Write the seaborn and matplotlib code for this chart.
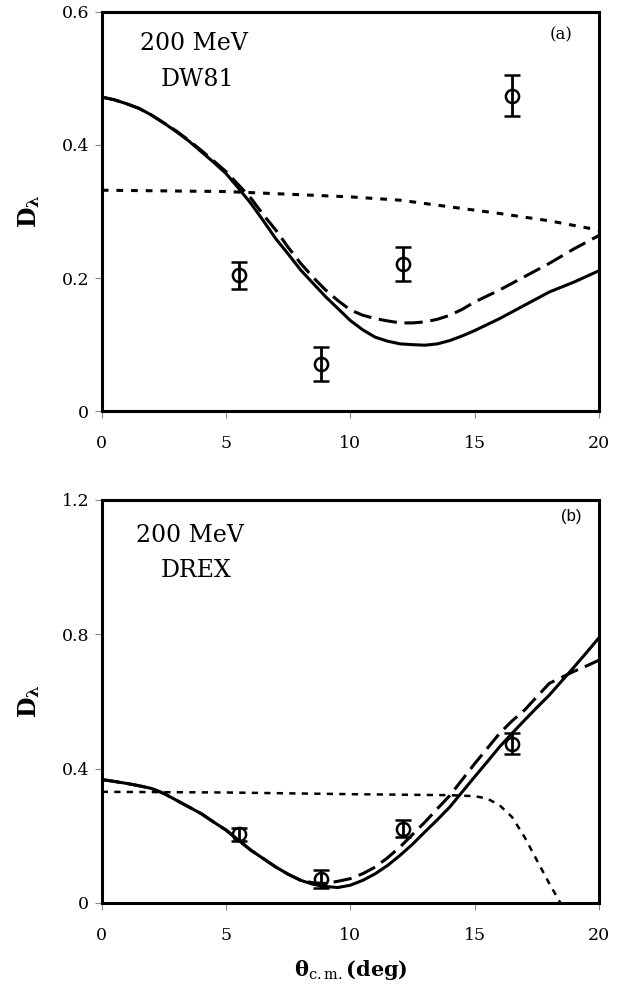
import numpy as np
import pandas as pd
import matplotlib
matplotlib.use("Agg")
import matplotlib.pyplot as plt
import seaborn as sns

sns.set_theme(style="white")
plt.rcParams['font.family'] = ['DejaVu Serif']
plt.rcParams['mathtext.fontset'] = 'dejavuserif'
plt.rcParams['text.color'] = 'black'
plt.rcParams['axes.labelcolor'] = 'black'

# ---- data ----
a_x = [0, 0.5, 1, 1.5, 2, 2.5, 3, 3.5, 4, 4.5, 5, 5.5, 6, 6.5, 7, 7.5, 8, 8.5, 9, 9.5, 10,
       10.5, 11, 11.5, 12, 12.5, 13, 13.5, 14, 14.5, 15, 16, 17, 18, 19, 20]
# panel (a) DW81
a_solid = [0.472, 0.468, 0.462, 0.455, 0.445, 0.433, 0.420, 0.406, 0.390, 0.374, 0.357, 0.335,
           0.312, 0.286, 0.259, 0.236, 0.212, 0.192, 0.172, 0.154, 0.136,
           0.122, 0.111, 0.105, 0.101, 0.0998, 0.099, 0.101, 0.106, 0.113, 0.121, 0.139,
           0.159, 0.179, 0.194, 0.211]
a_dashed = [0.472, 0.468, 0.462, 0.455, 0.445, 0.433, 0.421, 0.407, 0.392, 0.376, 0.360, 0.340,
            0.320, 0.295, 0.272, 0.246, 0.222, 0.201, 0.182, 0.166, 0.152,
            0.144, 0.139, 0.1355, 0.1325, 0.1325, 0.134, 0.138, 0.144, 0.153, 0.164, 0.182,
            0.202, 0.222, 0.244, 0.264]
a_dot_x = [0, 5, 10, 12, 14, 16, 18, 20]
a_dot = [0.332, 0.330, 0.322, 0.317, 0.307, 0.297, 0.286, 0.272]

# panel (b) DREX
b_x = [0, 0.5, 1, 1.5, 2, 2.5, 3, 3.5, 4, 4.5, 5, 5.5, 6, 6.5, 7, 7.5, 8, 8.5, 9, 9.5, 10,
       10.5, 11, 11.5, 12, 12.5, 13, 13.5, 14, 14.5, 15, 15.5, 16, 16.5, 17, 17.5, 18, 18.5,
       19, 19.5, 20]
b_solid = [0.3675, 0.362, 0.356, 0.349, 0.341, 0.326, 0.306, 0.286, 0.266, 0.241, 0.217, 0.187,
           0.157, 0.132, 0.107, 0.0855, 0.0675, 0.0556, 0.049, 0.046, 0.053,
           0.0675, 0.087, 0.112, 0.142, 0.175, 0.212, 0.248, 0.286, 0.331, 0.376, 0.420,
           0.465, 0.505, 0.544, 0.582, 0.619, 0.661, 0.703, 0.746, 0.790]
b_dashed = [0.3675, 0.362, 0.356, 0.349, 0.341, 0.326, 0.306, 0.286, 0.266, 0.241, 0.217, 0.187,
            0.157, 0.132, 0.107, 0.0855, 0.0675, 0.060, 0.058, 0.0646, 0.0725,
            0.0874, 0.107, 0.135, 0.167, 0.204, 0.241, 0.281, 0.320, 0.3675, 0.415, 0.460,
            0.505, 0.542, 0.574, 0.614, 0.654, 0.672, 0.690, 0.706, 0.723]
b_dot_x = [0, 5, 10, 14, 15, 15.5, 16, 16.5, 17, 17.5, 18, 18.5]
b_dot = [0.331, 0.329, 0.324, 0.321, 0.318, 0.311, 0.291, 0.256, 0.197, 0.127, 0.058, -0.007]

# experimental data
exp_theta = [5.5, 8.8, 12.1, 16.5]
exp_D = [0.204, 0.071, 0.221, 0.474]
exp_err = [0.020, 0.026, 0.025, 0.031]

fig = plt.figure(figsize=(6.4, 9.96), dpi=100)
ax1 = fig.add_axes([0.159, 0.5873, 0.777, 0.4007])
ax2 = fig.add_axes([0.159, 0.0934, 0.777, 0.4046])

lw = 2.2

def draw(ax, xs, ys, style, lwid):
    df = pd.DataFrame({"x": xs, "y": ys})
    sns.lineplot(data=df, x="x", y="y", ax=ax, color="black", lw=lwid, linestyle=style)

# panel a
draw(ax1, a_x, a_solid, "-", lw)
draw(ax1, a_x, a_dashed, (0, (6, 2.5)), lw)
draw(ax1, a_dot_x, a_dot, (0, (2.2, 2.6)), lw)
# panel b
draw(ax2, b_x, b_solid, "-", lw)
draw(ax2, b_x, b_dashed, (0, (6, 2.5)), lw)
draw(ax2, b_dot_x, b_dot, (0, (2.5, 2.5)), 1.8)

for ax in (ax1, ax2):
    ax.errorbar(exp_theta, exp_D, yerr=exp_err, fmt='o', mfc='none', mec='black',
                ecolor='black', ms=9.5, mew=1.8, elinewidth=2.0, capsize=5.8, capthick=2.0,
                color='black', zorder=5)
    ax.set_xlim(0, 20)
    ax.set_xticks([0, 5, 10, 15, 20])
    for s in ax.spines.values():
        s.set_linewidth(2.2)
        s.set_color('black')
    ax.tick_params(axis='both', which='both', direction='out', length=5, width=0.8,
                   color='#888888', labelcolor='black', labelsize=12.5, bottom=True, left=True)
    ax.tick_params(axis='x', pad=12)
    ax.tick_params(axis='y', pad=4)
    ax.set_ylabel(r'$\mathbf{D}_{\boldsymbol{\lambda}}$', fontsize=17, fontweight='bold',
                  labelpad=14)
    ax.set_xlabel('')

ax1.set_ylim(0, 0.6)
ax1.set_yticks([0, 0.2, 0.4, 0.6])
ax1.set_yticklabels(['0', '0.2', '0.4', '0.6'])
ax2.set_ylim(0, 1.2)
ax2.set_yticks([0, 0.4, 0.8, 1.2])
ax2.set_yticklabels(['0', '0.4', '0.8', '1.2'])

ax1.text(0.185, 0.921, '200 MeV', transform=ax1.transAxes, ha='center', va='center', fontsize=17)
ax1.text(0.193, 0.831, 'DW81', transform=ax1.transAxes, ha='center', va='center', fontsize=17)
ax1.text(0.924, 0.942, '(a)', transform=ax1.transAxes, ha='center', va='center', fontsize=12)

ax2.text(0.178, 0.913, '200 MeV', transform=ax2.transAxes, ha='center', va='center', fontsize=17)
ax2.text(0.189, 0.826, 'DREX', transform=ax2.transAxes, ha='center', va='center', fontsize=17)
ax2.text(0.944, 0.959, '(b)', transform=ax2.transAxes, ha='center', va='center', fontsize=12,
         family=['Liberation Sans', 'DejaVu Sans'])

fig.text(0.548, 0.026, r'$\mathbf{\theta}_{\mathrm{c.m.}}\mathbf{(deg)}$', ha='center',
         va='center', fontsize=15)

fig.savefig('out.png', dpi=100, facecolor='white')
